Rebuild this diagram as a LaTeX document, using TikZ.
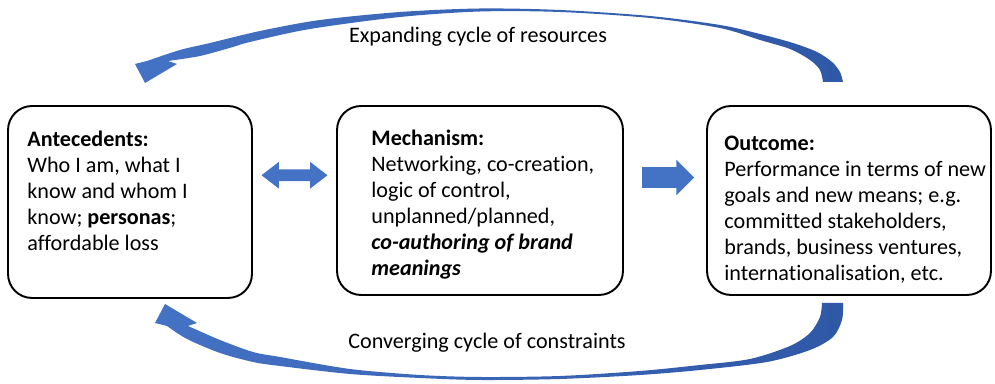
\documentclass[tikz,border=0pt]{standalone}
\usepackage{fontspec}
\setmainfont{Carlito}[Ligatures=NoCommon]
\usepackage{tikz}
\usetikzlibrary{shapes.arrows, positioning, calc}
\definecolor{cycblue}{HTML}{4472C4}
\definecolor{cycdark}{HTML}{2F58A6}

\begin{document}
\begin{tikzpicture}[
    x=0.02cm, y=0.02cm,
    every node/.style={font=\fontsize{12.6}{14.8}\selectfont},
    box/.style={
        rectangle,
        rounded corners=0.48cm,
        draw=black,
        line width=1.1pt
    },
    boxtext/.style={
        align=left,
        inner sep=0pt,
        anchor=north west
    },
    cyclabel/.style={
        inner sep=0pt,
        anchor=base
    },
    cycfill/.style={
        left color=cycblue,
        middle color=cycblue,
        right color=cycdark
    },
    bothway/.style={
        double arrow,
        fill=cycblue,
        inner xsep=0pt, inner ysep=0.11cm,
        double arrow head extend=0.15cm,
        double arrow tip angle=75,
        minimum height=1.32cm
    },
    oneway/.style={
        single arrow,
        fill=cycblue,
        inner xsep=0pt, inner ysep=0.2cm,
        single arrow head extend=0.15cm,
        minimum height=1.04cm
    }
]
\useasboundingbox (0,0) rectangle (995,384);

% Boxes
\node[box, minimum width=4.88cm, minimum height=3.84cm] (ante) at (130,182) {};
\node[box, minimum width=5.72cm, minimum height=3.78cm] (mech) at (480,183.5) {};
\node[box, minimum width=5.68cm, minimum height=3.78cm] (outc) at (849,183.5) {};

% Box texts
\node[boxtext, below right=0.51cm and 0.4cm of ante.north west] (antetext)
    {\textbf{Antecedents:}\\Who I am, what I\\know and whom I\\know; \textbf{personas};\\affordable loss};
\node[boxtext, below right=0.49cm and 0.7cm of mech.north west] (mechtext)
    {\textbf{Mechanism:}\\Networking, co-creation,\\logic of control,\\unplanned/planned,\\
     \textbf{\textit{co-authoring of brand}}\\\textbf{\textit{meanings}}};
\node[boxtext, below right=0.61cm and 0.36cm of outc.north west] (outctext)
    {\textbf{Outcome:}\\Performance in terms of new\\goals and new means; e.g.\\committed stakeholders,\\
     brands, business ventures,\\internationalisation, etc.};

% Arrows between the boxes
\node[bothway, yshift=0.52cm] (link) at ($(ante.east)!0.5!(mech.west)$) {};
\node[oneway, xshift=-0.04cm, yshift=0.46cm] (lead) at ($(mech.east)!0.5!(outc.west)$) {};

% Cycle labels
\node[cyclabel] (expand) at (478,341) {Expanding cycle of resources};
\node[cyclabel] (converge) at (487,35) {Converging cycle of constraints};

% Upper cycle, outcome back to antecedents (tip first)
\shade[cycfill] (145,301) -- (135,320)
  -- plot[smooth] coordinates {(147,323) (180,334) (210,341) (260,353) (320,364) (400,372)
      (480,375.5) (560,374) (650,368) (720,359) (760,350) (793,341) (817,332) (832,322)
      (840,312) (843,302)}
  -- plot[smooth] coordinates {(823,302) (820,314) (810,324) (790,335) (760,344) (720,356)
      (650,366) (560,372) (480,372.5) (400,367) (310,355) (250,342) (233,337) (200,328)
      (168,323)}
  -- (177,320) -- cycle;

% Lower cycle, outcome back to antecedents (tip first)
\shade[cycfill] (165,80) -- (155,61)
  -- plot[smooth] coordinates {(167,58) (187,45) (220,31) (253,22) (280,18) (350,10)
      (420,6) (480,4) (560,5) (640,9) (700,14) (767,22) (810,34) (833,47) (842,64) (843,81)}
  -- plot[smooth] coordinates {(822,81) (820,67) (810,51) (790,38) (750,25) (700,19)
      (640,13) (560,8) (480,7) (420,9) (350,15) (280,27) (253,32) (220,44) (188,58)}
  -- (197,61) -- cycle;

\end{tikzpicture}
\end{document}
